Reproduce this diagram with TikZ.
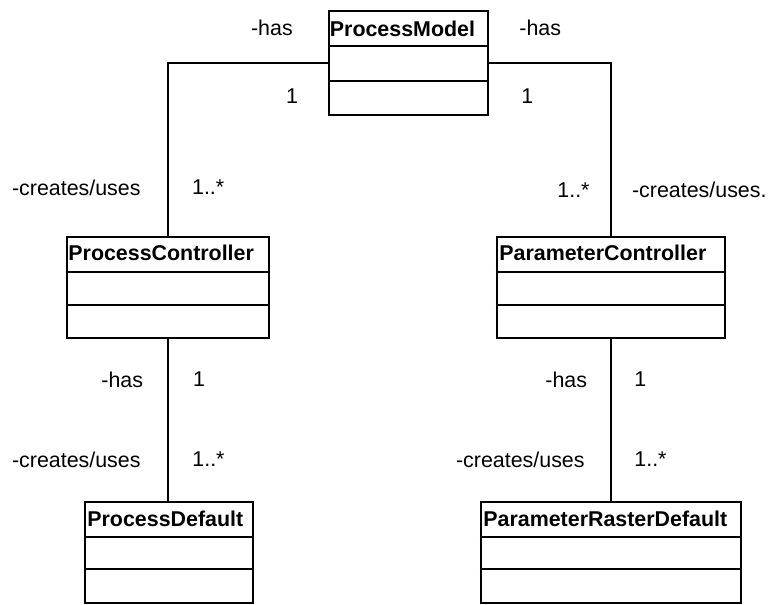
\documentclass[tikz,border=0pt]{standalone}
\usepackage{fontspec}
\setmainfont{Liberation Sans}
\begin{document}
\begin{tikzpicture}[x=0.5pt,y=-0.5pt,
  classbox/.style={draw, line width=1pt, inner sep=0pt, anchor=north west, fill=white},
  divider/.style={line width=1pt},
  conn/.style={line width=1pt},
  title/.style={inner sep=0pt, anchor=west, font=\fontsize{10.7}{12}\selectfont\bfseries},
  lbl/.style={inner sep=0pt, anchor=west, font=\fontsize{10.7}{12}\selectfont}]
\useasboundingbox (0,0) rectangle (769,604);

% ---- class boxes ----
\node[classbox, minimum width=79.5pt, minimum height=52pt] (pm) at (328.3,10) {};
\draw[divider] (328.3,46) -- (487.3,46);
\draw[divider] (328.3,81) -- (487.3,81);
\node[title] (pmt) at (329.5,28.5) {ProcessModel};

\node[classbox, minimum width=101.3pt, minimum height=50.5pt] (pc) at (65.7,235.7) {};
\draw[divider] (65.7,272.3) -- (268.3,272.3);
\draw[divider] (65.7,305) -- (268.3,305);
\node[title] (pct) at (68,252.5) {ProcessController};

\node[classbox, minimum width=114pt, minimum height=50.5pt] (parc) at (495.7,235.7) {};
\draw[divider] (495.7,272.3) -- (723.7,272.3);
\draw[divider] (495.7,305) -- (723.7,305);
\node[title] (parct) at (499,252.5) {ParameterController};

\node[classbox, minimum width=84.15pt, minimum height=50.8pt] (pd) at (84,500.7) {};
\draw[divider] (84,536.7) -- (252.3,536.7);
\draw[divider] (84,569) -- (252.3,569);
\node[title] (pdt) at (87,519) {ProcessDefault};

\node[classbox, minimum width=130.15pt, minimum height=50.8pt] (prd) at (479.7,500.7) {};
\draw[divider] (479.7,536.7) -- (740,536.7);
\draw[divider] (479.7,569) -- (740,569);
\node[title] (prdt) at (483,519) {ParameterRasterDefault};

% ---- associations ----
\draw[conn] (pm.west) -| (pc.north);
\draw[conn] (pm.east) -| (parc.north);
\draw[conn] (pc.south) -- (pc.south |- pd.north);
\draw[conn] (parc.south) -- (parc.south |- prd.north);

% ---- role names and multiplicities ----
\node[lbl] (l1) at (250.7,27.5) {-has};
\node[lbl] (l2) at (285.7,96.5) {1};
\node[lbl] (l3) at (519,27.5) {-has};
\node[lbl] (l4) at (521,96.5) {1};
\node[lbl] (l5) at (11.7,188) {-creates/uses};
\node[lbl] (l6) at (191.7,187) {1..*};
\node[lbl] (l7) at (557,190) {1..*};
\node[lbl] (l8) at (631.7,190) {-creates/uses.};
\node[lbl] (l9) at (101,379.5) {-has};
\node[lbl] (l10) at (192.7,379.5) {1};
\node[lbl] (l11) at (11.7,460) {-creates/uses};
\node[lbl] (l12) at (192,459) {1..*};
\node[lbl] (l13) at (545,379.5) {-has};
\node[lbl] (l14) at (634,379.5) {1};
\node[lbl] (l15) at (455.7,460) {-creates/uses};
\node[lbl] (l16) at (634,459) {1..*};
\end{tikzpicture}
\end{document}
